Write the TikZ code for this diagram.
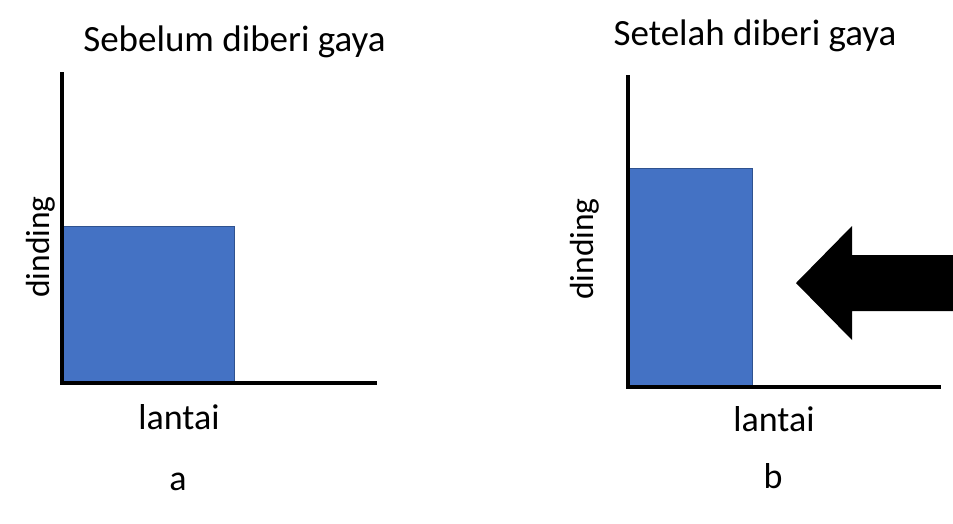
\documentclass[tikz,border=0pt]{standalone}
\usepackage{fontspec}
\setmainfont{Carlito}
\definecolor{blockblue}{HTML}{4472C4}
\definecolor{blockedge}{HTML}{2F528F}
\begin{document}
\begin{tikzpicture}[x=1pt,y=-1pt,
  axis/.style={line width=4pt, line join=miter},
  block/.style={fill=blockblue, draw=blockedge, line width=1pt},
  lbl/.style={font=\fontsize{36}{40}\selectfont, inner sep=0pt, anchor=base},
  ttl/.style={font=\fontsize{37}{40}\selectfont, inner sep=0pt, anchor=base},
  vlbl/.style={font=\fontsize{33.5}{40}\selectfont, inner sep=0pt, anchor=base, rotate=90},
  force/.style={fill=black, draw=none}]
\useasboundingbox (0,0) rectangle (953,523);
% left panel
\coordinate (wallTopA) at (62,72);
\coordinate (cornerA) at (62,383);
\coordinate (floorEndA) at (377,383);
\path[block] (63,226) rectangle (234,382);
\draw[axis] (wallTopA) -- (cornerA) -- (floorEndA);
\node[ttl] (titleA) at (234.5,51) {Sebelum diberi gaya};
\node[vlbl] (wallA) at (49,247) {dinding};
\node[lbl] (floorA) at (179,429) {lantai};
\node[lbl] (capA) at (178,490) {a};
% right panel
\coordinate (wallTopB) at (628,75);
\coordinate (cornerB) at (628,387);
\coordinate (floorEndB) at (941,387);
\path[block] (629,168) rectangle (752,386);
\draw[axis] (wallTopB) -- (cornerB) -- (floorEndB);
\path[force] (796,283) -- (852,226) -- (852,255) -- (953,255) -- (953,311) -- (852,311) -- (852,340) -- cycle;
\node[ttl] (titleB) at (755,45) {Setelah diberi gaya};
\node[vlbl] (wallB) at (593,249) {dinding};
\node[lbl] (floorB) at (774,431) {lantai};
\node[lbl] (capB) at (773,488) {b};
\end{tikzpicture}
\end{document}
